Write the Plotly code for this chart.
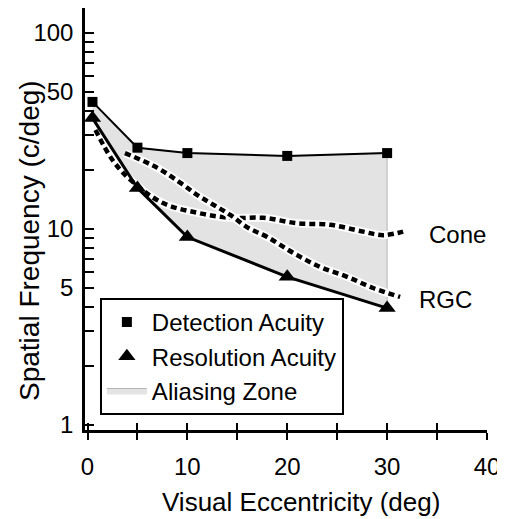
import math
import plotly.graph_objects as go

# ---- data ----
ecc = [0.5, 5, 10, 20, 30]
detection = [44.5, 26.0, 24.4, 23.6, 24.4]
resolution = [36.8, 16.2, 9.1, 5.7, 3.95]

cone_x = [0.8, 2.5, 4.3, 7.5, 11, 14.3, 17.6, 21, 24.3, 27.6, 29.6, 31.6]
cone_y = [32, 22.5, 17.8, 13.6, 12.1, 11.4, 11.4, 10.7, 10.5, 9.7, 9.3, 9.7]

rgc_x = [3.75, 7, 9.3, 11, 12.6, 14.3, 16, 18, 20.6, 23.3, 26, 28.6, 31.3]
rgc_y = [24.4, 20.5, 17.2, 14.9, 13.3, 11.8, 10.2, 9.1, 7.55, 6.4, 5.7, 5.0, 4.5]

x_ticks = [0, 5, 10, 15, 20, 25, 30, 35, 40]
x_labels = ["0", "", "10", "", "20", "", "30", "", "40"]
y_ticks = [1, 2, 3, 4, 5, 6, 7, 8, 9, 10, 20, 30, 40, 50, 60, 70, 80, 90, 100]
y_labels = ["1", "", "", "", "5", "", "", "", "", "10", "", "", "", "50", "", "", "", "", "100"]

FONT = "Liberation Sans, Arial, Helvetica, sans-serif"

fig = go.Figure()

# Aliasing zone fill
fig.add_trace(go.Scatter(
    x=ecc + ecc[::-1], y=detection + resolution[::-1],
    fill="toself", fillcolor="#e3e3e3", mode="lines",
    line=dict(color="#b4b4b4", width=1),
    name="Aliasing Zone", legendrank=3, hoverinfo="skip"))

# dashed model curves (white halo + black dashes)
for cx, cy in [(cone_x, cone_y), (rgc_x, rgc_y)]:
    fig.add_trace(go.Scatter(x=cx, y=cy, mode="lines", xaxis="x2",
                             line=dict(color="white", width=8, shape="spline"),
                             showlegend=False, hoverinfo="skip"))
    fig.add_trace(go.Scatter(x=cx, y=cy, mode="lines", xaxis="x2",
                             line=dict(color="black", width=4.5, shape="spline", dash="6px,4px"),
                             showlegend=False, hoverinfo="skip"))

# solid lines
fig.add_trace(go.Scatter(x=ecc, y=detection, mode="lines", xaxis="x2",
                         line=dict(color="black", width=2), showlegend=False))
fig.add_trace(go.Scatter(x=ecc, y=resolution, mode="lines", xaxis="x2",
                         line=dict(color="black", width=3), showlegend=False))
# markers
fig.add_trace(go.Scatter(x=ecc, y=detection, mode="markers", xaxis="x2",
                         marker=dict(symbol="square", size=10, color="black"),
                         name="Detection Acuity", legendrank=1))
fig.add_trace(go.Scatter(x=ecc, y=resolution, mode="markers", xaxis="x2",
                         marker=dict(symbol="triangle-up", size=15, color="black"),
                         name="Resolution Acuity", legendrank=2))

# page has an 8px body margin: figure is sized to fit the 505x519 window
W, H = 497, 511
L, R, T, B = 77, 18, 0, 89
PH = H - T - B  # 422
xr = [-0.25, 40]
yr = [-0.0255, -0.0255 + PH / 196.0]

fig.update_layout(
    width=W, height=H,
    margin=dict(l=L, r=R, t=T, b=B, autoexpand=False),
    paper_bgcolor="white", plot_bgcolor="white",
    font=dict(family=FONT, size=24, color="black"),
    showlegend=True,
    legend=dict(x=0.037, y=(PH - 290) / PH, xanchor="left", yanchor="top",
                bgcolor="white", bordercolor="black", borderwidth=2,
                font=dict(size=24), tracegroupgap=0, itemwidth=40),
    xaxis=dict(range=xr, showgrid=False, zeroline=False,
               showline=True, linecolor="black", linewidth=2.5,
               ticks="outside", ticklen=7, tickwidth=2, tickcolor="black",
               tickmode="array", tickvals=x_ticks, ticktext=x_labels,
               ticklabelstandoff=6),
    xaxis2=dict(range=xr, overlaying="x", anchor="y", side="bottom",
                showgrid=False, zeroline=False, showline=False,
                ticks="inside", ticklen=7, tickwidth=2, tickcolor="black",
                tickmode="array", tickvals=x_ticks, showticklabels=False),
    yaxis=dict(type="log", range=yr, showgrid=False, zeroline=False,
               showline=True, linecolor="black", linewidth=2.5,
               ticks="inside", ticklen=9, tickwidth=2, tickcolor="black",
               tickmode="array", tickvals=y_ticks, ticktext=y_labels,
               ticklabelstandoff=4),
    annotations=[
        dict(text="Visual Eccentricity (deg)", xref="x", yref="paper",
             x=21.4, y=(PH - 494) / PH, showarrow=False, font=dict(size=26),
             xanchor="center", yanchor="middle"),
        dict(text="Spatial Frequency (c/deg)", xref="paper", yref="paper",
             x=(21 - L) / 402, y=(PH - 233) / PH, textangle=-90,
             showarrow=False, font=dict(size=28),
             xanchor="center", yanchor="middle"),
        dict(text="Cone", xref="x", yref="y", x=37, y=math.log10(9.43),
             showarrow=False, font=dict(size=24)),
        dict(text="RGC", xref="x", yref="y", x=35.8, y=math.log10(4.35),
             showarrow=False, font=dict(size=24)),
    ],
)

fig.write_html("out.html")
